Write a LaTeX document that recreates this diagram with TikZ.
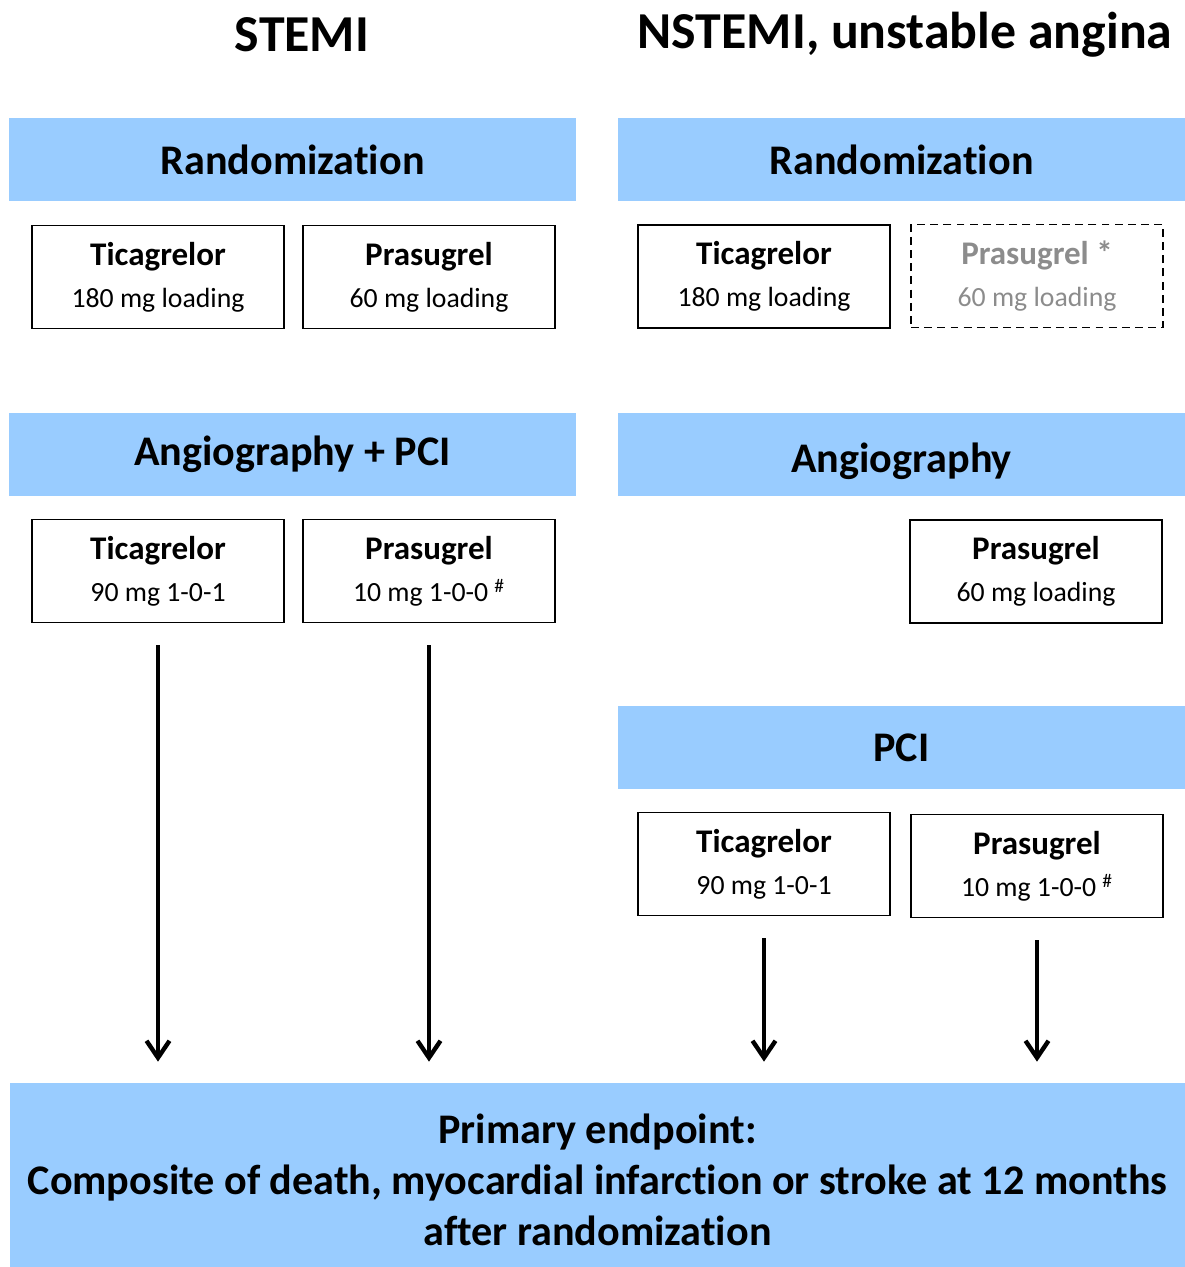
\documentclass[tikz,border=0pt]{standalone}
\usepackage{fontspec}
\setmainfont{Carlito}[Ligatures=CommonOff]
\usetikzlibrary{arrows.meta}
\definecolor{barblue}{HTML}{99CCFF}
\definecolor{fadegray}{HTML}{8C8C8C}

\begin{document}
\begin{tikzpicture}[x=0.02cm, y=-0.02cm]
\tikzstyle{title}=[font=\fontsize{29.5}{35}\selectfont\bfseries]
\tikzstyle{bar}=[fill=barblue, minimum width=11.34cm, minimum height=1.66cm,
                 inner sep=0pt, font=\fontsize{24}{29}\selectfont\bfseries]
\tikzstyle{drug}=[draw, line width=1.1pt, minimum width=5.04cm, minimum height=2.06cm,
                  inner sep=0pt, align=center, font=\fontsize{15.8}{24}\selectfont]
\tikzstyle{flow}=[line width=2.5pt, -{Straight Barb[length=3.4mm,width=4.6mm]},
                  shorten <=0.44cm, shorten >=0.42cm]
\newcommand{\dname}[1]{{\fontsize{18.8}{24}\selectfont\bfseries #1}}
\useasboundingbox (0,0) rectangle (1185,1267);

% titles
\node[title] (stemi) at (302,35) {STEMI};
\node[title] (nstemi) at (905,35) {NSTEMI, unstable angina};

% first row
\node[bar] (randL) at (292.5,159.5) {Randomization};
\node[bar] (randR) at (901.5,159.5) {Randomization};
\node[drug] (ticL1) at (158,277) {\dname{Ticagrelor}\\180 mg loading};
\node[drug] (praL1) at (429,277) {\dname{Prasugrel}\\60 mg loading};
\node[drug] (ticR1) at (764,276.5) {\dname{Ticagrelor}\\180 mg loading};
\node[drug, draw=black, dashed, dash pattern=on 4.5pt off 3pt, text=fadegray]
      (praR1) at (1037,276) {\dname{Prasugrel *}\\60 mg loading};

% second row
\node[bar] (angL) at (292.5,454.5) {Angiography + PCI};
\node[bar, text height=24pt] (angR) at (901.5,454.5) {Angiography};
\node[drug] (ticL2) at (158,571) {\dname{Ticagrelor}\\90 mg 1-0-1};
\node[drug] (praL2) at (429,571) {\dname{Prasugrel}\\10 mg 1-0-0 \textsuperscript{\#}};
\node[drug] (praR2) at (1036,571.5) {\dname{Prasugrel}\\60 mg loading};

% PCI for NSTEMI
\node[bar] (pciR) at (901.5,747.5) {PCI};
\node[drug] (ticR3) at (764,864) {\dname{Ticagrelor}\\90 mg 1-0-1};
\node[drug] (praR3) at (1037,866) {\dname{Prasugrel}\\10 mg 1-0-0 \textsuperscript{\#}};

% endpoint
\node[bar, minimum width=23.5cm, minimum height=3.88cm, align=center,
      font=\fontsize{24}{29}\selectfont\bfseries] (endp) at (597.5,1180)
      {Primary endpoint:\\Composite of death, myocardial infarction or stroke at 12 months\\after randomization};

\draw[flow] (ticL2) -- (ticL2 |- endp.north);
\draw[flow] (praL2) -- (praL2 |- endp.north);
\draw[flow] (ticR3) -- (ticR3 |- endp.north);
\draw[flow] (praR3) -- (praR3 |- endp.north);
\end{tikzpicture}
\end{document}
